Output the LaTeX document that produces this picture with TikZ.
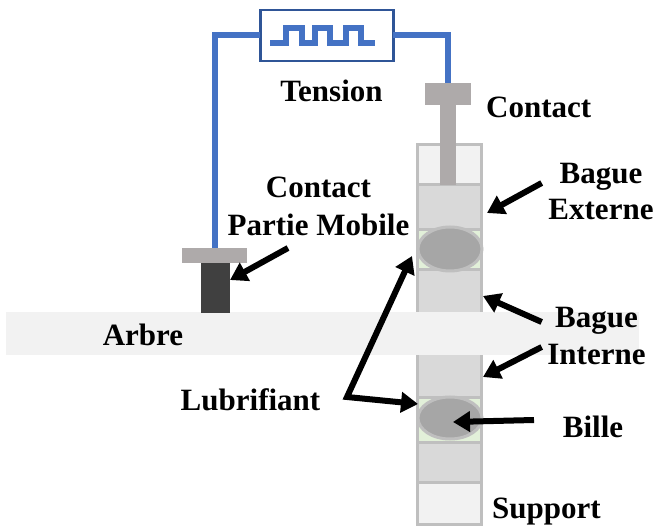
\documentclass[tikz,border=0pt]{standalone}
\usepackage{fontspec}
\setmainfont{Liberation Serif}
\usetikzlibrary{arrows.meta,shapes.geometric}
\definecolor{wireblue}{HTML}{4472C4}
\definecolor{boxblue}{HTML}{2F5597}
\definecolor{ringgray}{HTML}{D9D9D9}
\definecolor{edgegray}{HTML}{BFBFBF}
\definecolor{palegray}{HTML}{F2F2F2}
\definecolor{contactgray}{HTML}{AEAAAA}
\definecolor{darkpart}{HTML}{404040}
\definecolor{lubgreen}{HTML}{E2F0D9}
\definecolor{ballgray}{HTML}{A6A6A6}
\tikzset{
  x=1pt,y=-1pt,
  textlab/.style={font=\fontsize{31}{36}\selectfont\bfseries,inner sep=0pt,text=black,anchor=base},
  wire/.style={draw=wireblue,line width=6pt},
  ringpart/.style={draw=edgegray,line width=3pt,fill=ringgray},
  supportpart/.style={draw=edgegray,line width=3pt,fill=palegray},
  lubpart/.style={draw=edgegray,line width=3pt,fill=lubgreen},
  ball/.style={ellipse,draw=edgegray,line width=3pt,fill=ballgray,inner sep=0pt,minimum width=64pt,minimum height=44pt},
  contactpart/.style={fill=contactgray,inner sep=0pt,outer sep=0pt},
  pointer/.style={line width=6pt,draw=black,-{Triangle[length=17pt,width=20pt]}},
}
\begin{document}
\begin{tikzpicture}
\useasboundingbox (0,0) rectangle (656,526);
% column
\draw[supportpart] (417.5,144.5) rectangle (481.5,185);
\draw[ringpart] (417.5,185) rectangle (481.5,230);
\draw[lubpart] (417.5,230) rectangle (481.5,270);
\draw[ringpart] (417.5,270) rectangle (481.5,330);
\draw[ringpart] (417.5,340) rectangle (481.5,398);
\draw[lubpart] (417.5,398) rectangle (481.5,442);
\draw[ringpart] (417.5,442) rectangle (481.5,482);
\draw[supportpart] (417.5,482) rectangle (481.5,524);
\node[ball] (balltop) at (450,249) {};
\node[ball,minimum height=42pt] (ballbottom) at (450,418) {};
% shaft
\fill[palegray] (6,312) rectangle (639,355);
% contacts
\node[contactpart,minimum width=16pt,minimum height=82pt] (stem) at (448,144) {};
\node[contactpart,minimum width=46pt,minimum height=22pt] (capright) at (448,94) {};
\node[fill=darkpart,inner sep=0pt,minimum width=29pt,minimum height=50pt] (brush) at (215.5,288) {};
\node[contactpart,minimum width=65pt,minimum height=15pt] (capleft) at (214.5,255.5) {};
% source box and wires
\node[draw=boxblue,line width=2.8pt,fill=white,inner sep=0pt,minimum width=133pt,minimum height=51pt,outer sep=0pt] (source) at (326.7,35.5) {};
\draw[wire] (source.west) -| (capleft.north);
\draw[wire] (source.east) -| (capright.north);
\draw[wire,miter limit=10] (270,43.3) -- (286,43.3) -- (286,27.7) -- (301.7,27.7)
  -- (301.7,43.3) -- (315,43.3) -- (315,27.7) -- (330,27.7) -- (330,43.3) -- (345.7,43.3) -- (345.7,27.7)
  -- (361,27.7) -- (361,43.3) -- (375,43.3);
% labels
\node[textlab] (tension) at (331.5,102) {Tension};
\node[textlab] (contactlab) at (538.7,117.5) {Contact};
\node[textlab,align=center] (mobile) at (318.5,236) {Contact\\[2pt]Partie Mobile};
\node[textlab,align=center] (externe) at (601,220) {Bague\\Externe};
\node[textlab,align=center] (interne) at (596.5,365) {Bague\\[1pt]Interne};
\node[textlab] (arbre) at (143,346) {Arbre};
\node[textlab] (lub) at (250.5,410) {Lubrifiant};
\node[textlab] (bille) at (593,437) {Bille};
\node[textlab] (support) at (546.5,518) {Support};
% arrow ends
\coordinate (mobileA) at (288,248);
\coordinate (mobileB) at (230,280);
\coordinate (extA) at (541.7,183);
\coordinate (extB) at (487,213);
\coordinate (intA) at (541.7,322);
\coordinate (intB) at (483,296);
\coordinate (intC) at (541.7,347);
\coordinate (intD) at (483,377);
\coordinate (lubA) at (347,397);
\coordinate (lubB) at (412,256);
\coordinate (lubC) at (418,404);
\coordinate (billeA) at (534,420);
\coordinate (billeB) at (453,422);
\draw[pointer] (mobileA) -- (mobileB);
\draw[pointer] (extA) -- (extB);
\draw[pointer] (intA) -- (intB);
\draw[pointer] (intC) -- (intD);
\draw[pointer,{Triangle[length=17pt,width=20pt]}-{Triangle[length=17pt,width=20pt]}] (lubB) -- (lubA) -- (lubC);
\draw[pointer] (billeA) -- (billeB);
\end{tikzpicture}
\end{document}
